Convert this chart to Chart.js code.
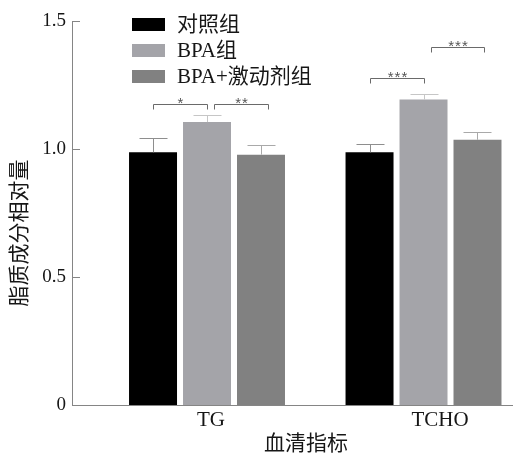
<!DOCTYPE html>
<html>
<head>
<meta charset="utf-8">
<script src="https://cdn.jsdelivr.net/npm/chart.js@4/dist/chart.umd.min.js"></script>
<style>
  html, body { margin: 0; padding: 0; background: #ffffff; }
  #wrap { width: 513px; height: 453px; }
</style>
</head>
<body>
<div id="wrap"><canvas id="c" width="513" height="453"></canvas></div>
<script>
// Serum lipid indicators, relative amounts per group (mean with upper error bar)
const categories = ['TG', 'TCHO'];
const seriesNames = ['对照组', 'BPA组', 'BPA+激动剂组'];
const controlValues = [0.987, 0.987];
const bpaValues = [1.105, 1.193];
const agonistValues = [0.978, 1.036];
const controlErrTop = [1.044, 1.021];
const bpaErrTop = [1.132, 1.214];
const agonistErrTop = [1.014, 1.066];
const yTickValues = [0, 0.5, 1.0, 1.5];
const yTickLabels = ['0', '0.5', '1.0', '1.5'];
const xTitle = '血清指标';
const yTitle = '脂质成分相对量';
// significance brackets: category, bar from/to (series index), height in data units, mark
const sigCategory = [0, 0, 1, 1];
const sigFrom = [0, 1, 0, 1];
const sigTo = [1, 2, 1, 2];
const sigLevel = [1.176, 1.176, 1.277, 1.398];
const sigMarks = ['*', '**', '***', '***'];

const seriesValues = [controlValues, bpaValues, agonistValues];
const seriesErrTop = [controlErrTop, bpaErrTop, agonistErrTop];
const barColors = ['#000000', '#a4a4a9', '#818181'];
const errColors = ['#8e8e8e', '#c6c6c6', '#a9a9a9'];

const SERIF = "'Liberation Serif', 'Times New Roman', 'Noto Sans CJK SC', serif";
const TEXT = '#161616';
const AXIS = '#858585';

// error bars, significance brackets, inward y ticks, legend and axis titles
const decorations = {
  id: 'decorations',
  afterDatasetsDraw(chart) {
    const ctx = chart.ctx;
    const y = chart.scales.y;
    const area = chart.chartArea;
    ctx.save();
    ctx.lineWidth = 1;

    // error bars
    seriesValues.forEach((vals, s) => {
      const meta = chart.getDatasetMeta(s);
      meta.data.forEach((bar, i) => {
        const x = Math.round(bar.x) + 0.5;
        const yTop = Math.round(y.getPixelForValue(seriesErrTop[s][i])) + 0.5;
        const yBar = bar.y;
        ctx.strokeStyle = errColors[s];
        ctx.beginPath();
        ctx.moveTo(x, yBar);
        ctx.lineTo(x, yTop);
        ctx.moveTo(x - 14, yTop);
        ctx.lineTo(x + 14, yTop);
        ctx.stroke();
      });
    });

    // significance brackets
    ctx.strokeStyle = '#6a6a6a';
    ctx.fillStyle = '#555555';
    ctx.font = "15px 'Liberation Sans', 'DejaVu Sans', sans-serif";
    ctx.textAlign = 'center';
    ctx.textBaseline = 'alphabetic';
    sigMarks.forEach((mark, k) => {
      const c = sigCategory[k];
      const barA = chart.getDatasetMeta(sigFrom[k]).data[c];
      const barB = chart.getDatasetMeta(sigTo[k]).data[c];
      const shift = sigFrom[k] === 1 ? 7 : 0;
      const x1 = Math.round(barA.x + shift) + 0.5;
      const x2 = Math.round(barB.x + shift) + 0.5;
      const yy = Math.round(y.getPixelForValue(sigLevel[k])) + 0.5;
      ctx.beginPath();
      ctx.moveTo(x1, yy + 5);
      ctx.lineTo(x1, yy);
      ctx.lineTo(x2, yy);
      ctx.lineTo(x2, yy + 5);
      ctx.stroke();
      ctx.letterSpacing = '1px';
      ctx.fillText(mark, (x1 + x2) / 2 + 0.5, yy + 3);
      ctx.letterSpacing = '0px';
    });

    // inward ticks on the y axis
    ctx.strokeStyle = AXIS;
    y.ticks.forEach(t => {
      const py = Math.round(y.getPixelForValue(t.value)) + 0.5;
      ctx.beginPath();
      ctx.moveTo(area.left, py);
      ctx.lineTo(area.left + 8, py);
      ctx.stroke();
    });

    // legend
    ctx.font = '21px ' + SERIF;
    ctx.textAlign = 'left';
    ctx.textBaseline = 'middle';
    seriesNames.forEach((name, s) => {
      const cy = area.top + 3.5 + s * 26;
      ctx.fillStyle = barColors[s];
      ctx.fillRect(area.left + 60, Math.round(cy - 6.5), 33, 13);
      ctx.fillStyle = TEXT;
      ctx.fillText(name, area.left + 105, cy + 1);
    });

    // axis titles
    ctx.fillStyle = TEXT;
    ctx.font = '21px ' + SERIF;
    ctx.textAlign = 'center';
    ctx.fillText(xTitle, 306, 444);
    ctx.save();
    ctx.translate(20, 233);
    ctx.rotate(-Math.PI / 2);
    ctx.fillText(yTitle, 0, 0);
    ctx.restore();

    ctx.restore();
  }
};

new Chart(document.getElementById('c'), {
  type: 'bar',
  data: {
    datasets: seriesNames.map((name, s) => ({
      label: name,
      data: categories.map((c, i) => ({ x: i, y: seriesValues[s][i] })),
      backgroundColor: barColors[s],
      borderWidth: 0,
      categoryPercentage: 0.748,
      barPercentage: 0.889
    }))
  },
  options: {
    responsive: false,
    devicePixelRatio: 1,
    animation: false,
    layout: { padding: { top: 21, right: 1, bottom: 0, left: 0 } },
    plugins: {
      legend: { display: false },
      tooltip: { enabled: false }
    },
    scales: {
      x: {
        type: 'linear',
        offset: false,
        min: -0.6236,
        max: 1.4087,
        afterBuildTicks(scale) {
          // category labels sit slightly right of each bar group
          scale.ticks = [{ value: 0.018 }, { value: 1.076 }];
        },
        afterFit(scale) { scale.height = 48; },
        ticks: {
          autoSkip: false,
          maxRotation: 0,
          padding: 3,
          color: TEXT,
          font: { family: SERIF, size: 21 },
          callback: (v, i) => categories[i]
        },
        grid: { display: false, drawTicks: false, offset: false },
        border: { display: true, color: AXIS, width: 1 }
      },
      y: {
        min: 0,
        max: 1.5,
        afterBuildTicks(scale) {
          scale.ticks = yTickValues.map(v => ({ value: v }));
        },
        afterFit(scale) { scale.width = 72; },
        ticks: {
          padding: 6,
          color: TEXT,
          font: { family: SERIF, size: 19 },
          callback: (v, i) => yTickLabels[i]
        },
        grid: { display: false, drawTicks: false },
        border: { display: true, color: AXIS, width: 1 }
      }
    }
  },
  plugins: [decorations]
});
</script>
</body>
</html>
